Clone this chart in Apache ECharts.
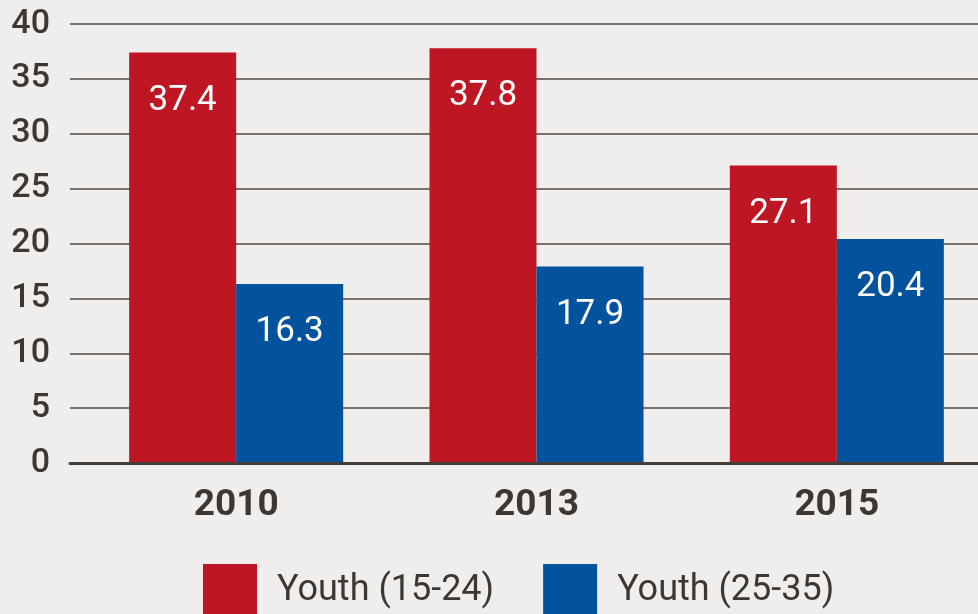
<!DOCTYPE html>
<html>
<head>
<meta charset="utf-8">
<script src="https://cdn.jsdelivr.net/npm/echarts@6/dist/echarts.min.js"></script>
<style>
  html, body { margin: 0; padding: 0; background: #efeeec; }
  #chart { width: 978px; height: 614px; }
</style>
</head>
<body>
<div id="chart"></div>
<script>
// Years on the category axis
const years = ['2010', '2013', '2015'];
// Share per age group, in percent
const youth1524 = [37.4, 37.8, 27.1];
const youth2535 = [16.3, 17.9, 20.4];
const seriesNames = ['Youth (15-24)', 'Youth (25-35)'];
// Value axis range
const yMin = 0, yMax = 40, yStep = 5;

const TEXT = '#3e3630';
const RED = '#be1723';
const BLUE = '#03529e';
const FONT = 'Roboto, "Liberation Sans", sans-serif';

const chart = echarts.init(document.getElementById('chart'), null, { renderer: 'canvas' });

const barLabel = {
  show: true,
  position: 'insideTop',
  distance: 31,
  color: '#ffffff',
  fontFamily: FONT,
  fontSize: 35,
  lineHeight: 35,
  formatter: p => p.value.toFixed(1)
};

chart.setOption({
  backgroundColor: '#efeeec',
  animation: false,
  grid: [
    // frame for the value scale and its gridlines
    { left: 70, width: 908, top: 24, bottom: 151, outerBoundsMode: 'none' },
    // frame for the bars; its last band runs past the right edge
    { left: 86, width: 901, top: 24, bottom: 151, outerBoundsMode: 'none' }
  ],
  legend: {
    data: seriesNames,
    left: 203,
    top: 564,
    padding: 0,
    itemWidth: 54,
    itemHeight: 54,
    itemGap: 49,
    icon: 'rect',
    textStyle: {
      color: TEXT,
      fontFamily: FONT,
      fontSize: 36,
      padding: [0, 0, 0, 15]
    }
  },
  xAxis: [
    {
      gridIndex: 0,
      type: 'category',
      data: years,
      z: 10,
      axisLine: { show: true, lineStyle: { color: '#453d37', width: 3 } },
      axisTick: { show: false },
      axisLabel: { show: false },
      splitLine: { show: false }
    },
    {
      gridIndex: 1,
      type: 'category',
      data: years,
      axisLine: { show: false },
      axisTick: { show: false },
      axisLabel: {
        color: TEXT,
        fontFamily: FONT,
        fontWeight: 'bold',
        fontSize: 37,
        lineHeight: 37,
        margin: 24
      }
    }
  ],
  yAxis: [
    {
      gridIndex: 0,
      type: 'value',
      min: yMin,
      max: yMax,
      interval: yStep,
      axisLine: { show: false },
      axisTick: { show: false },
      axisLabel: {
        color: TEXT,
        fontFamily: FONT,
        fontWeight: 500,
        fontSize: 34,
        margin: 20
      },
      splitLine: { lineStyle: { color: '#7a736d', width: 2 } }
    },
    {
      gridIndex: 1,
      type: 'value',
      min: yMin,
      max: yMax,
      interval: yStep,
      show: false,
      splitLine: { show: false }
    }
  ],
  series: [
    {
      name: seriesNames[0],
      type: 'bar',
      xAxisIndex: 1,
      yAxisIndex: 1,
      data: youth1524,
      barWidth: 107,
      barGap: '0%',
      itemStyle: { color: RED },
      label: barLabel
    },
    {
      name: seriesNames[1],
      type: 'bar',
      xAxisIndex: 1,
      yAxisIndex: 1,
      data: youth2535,
      barWidth: 107,
      barGap: '0%',
      itemStyle: { color: BLUE },
      label: barLabel
    }
  ]
});
</script>
</body>
</html>
